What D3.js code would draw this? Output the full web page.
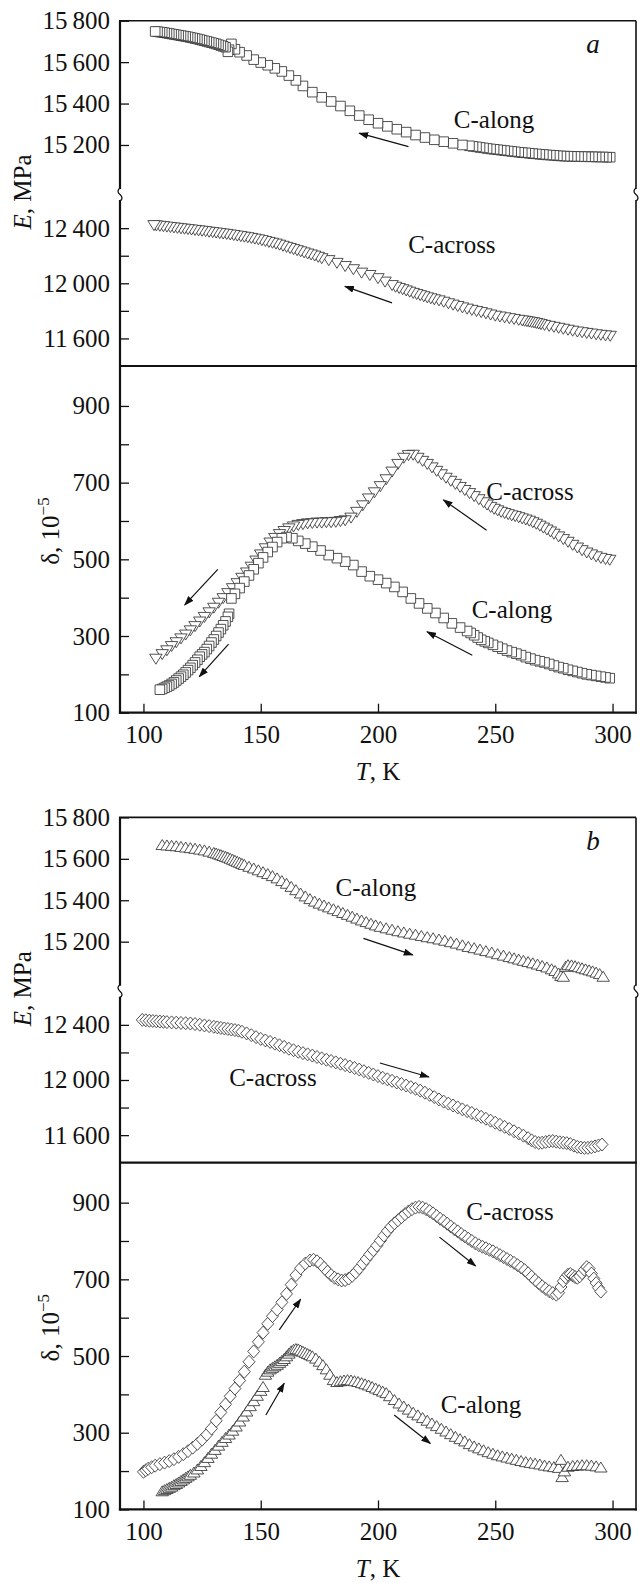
<!DOCTYPE html>
<html><head><meta charset="utf-8">
<script src="https://cdn.jsdelivr.net/npm/d3@7"></script>
<style>body{margin:0;background:#fff} text{font-family:"Liberation Serif","Times New Roman",serif;fill:#111}</style>
</head><body><svg id="c" width="644" height="1583"></svg>
<script>
// ---------- data (T in K, E in MPa, delta in 1e-5) ----------
const xTicks = [100,150,200,250,300];
const eUpTicks = [15200,15400,15600,15800];
const eLowTicks = [11600,12000,12400];
const eLowMinor = [11800,12200];
const dTicks = [100,300,500,700,900];
const dMinor = [200,400,600,800];

// panel a (cooling, measured from high T to low T)
const aAlongE = [[299,15141],[297.5,15141],[296,15142],[294.5,15142],[293,15142],[291.5,15143],[290,15143],[288.5,15143],[287,15144],[285.5,15144],[284,15145],[282.5,15145],[281,15146],[279.5,15146],[278,15147],[276.5,15148],[275,15150],[273.5,15151],[272,15152],[270.5,15154],[269,15155],[267.5,15157],[266,15158],[264.5,15160],[263,15162],[261.5,15163],[260,15165],[258.5,15167],[257,15169],[255.5,15171],[254,15173],[252.5,15175],[251,15177],[249.5,15179],[248,15181],[246.5,15183],[245,15186],[243.5,15188],[242,15191],[240.5,15193],[239,15196],[236,15200],[232,15208],[228,15216],[224,15225],[220,15236],[216,15248],[212,15262],[208,15276],[204,15290],[200,15305],[196,15322],[192,15342],[188,15365],[184,15388],[180,15410],[176,15430],[172,15455],[168,15485],[165,15512],[162,15535],[159,15555],[156,15570],[153,15585],[150,15598],[147,15612],[144,15632],[141,15648],[139,15662],[137.5,15688],[136.5,15660],[136,15650],[135,15672],[134,15676],[133,15680],[132,15684],[131,15688],[130,15691],[129,15694],[128,15697],[127,15700],[126,15703],[125,15706],[124,15709],[123,15712],[122,15714],[121,15717],[120,15719],[119,15722],[118,15724],[117,15726],[116,15728],[115,15730],[114,15732],[113,15734],[112,15736],[111,15738],[110,15740],[109,15742],[108,15744],[107,15745],[106,15747],[105,15748]];
const aAcrossE = [[299,11617],[297,11620],[295,11624],[293,11628],[291,11633],[289,11638],[287,11643],[285,11648],[283,11654],[281,11661],[279,11668],[277,11675],[275,11682],[273,11689],[271,11696],[269.5,11702],[268.5,11706],[267.5,11710],[266.5,11714],[265.5,11717],[264.5,11720],[263.5,11723],[262.5,11726],[261.5,11729],[260,11733],[258,11739],[256,11745],[254,11751],[252,11757],[250,11763],[248,11771],[246,11780],[244,11789],[242,11797],[240,11805],[238,11814],[236,11823],[234,11833],[232,11843],[230,11853],[228,11864],[226,11874],[224,11882],[222.5,11889],[221,11896],[219.5,11904],[218,11912],[216.5,11920],[215,11928],[213.5,11937],[212,11946],[210.5,11955],[209,11964],[207.5,11973],[206,11985],[203,12010],[200,12035],[196.5,12058],[193,12075],[189.5,12100],[186,12123],[182.5,12146],[179,12166],[176,12180],[174.5,12190],[173,12199],[171.5,12207],[170,12214],[168.5,12222],[167,12230],[165.5,12238],[164,12246],[162.5,12254],[161,12262],[159.5,12270],[158,12278],[156.5,12286],[155,12292],[153.5,12298],[152,12305],[150.5,12311],[149,12317],[147.5,12322],[146,12327],[144.5,12332],[143,12336],[141.5,12340],[140,12344],[138.5,12348],[137,12352],[135.5,12356],[134,12359],[132.5,12362],[131,12366],[129.5,12369],[128,12372],[126.5,12376],[125,12379],[123.5,12382],[122,12385],[120.5,12388],[119,12391],[117.5,12394],[116,12397],[114.5,12400],[113,12403],[111.5,12406],[110,12409],[108.5,12412],[107,12415],[105.5,12418],[104.5,12420]];
const aAcrossD = [[298.8,498],[297,500],[295,503],[293,507],[291,512],[289,517],[287,523],[285,530],[283,537],[281,545],[279,552],[277,559],[275,566],[273.5,572],[272,577],[270.5,582],[269,587],[267.5,592],[266,596],[264.5,600],[263,603],[261.5,606],[260,609],[258.5,612],[257,614],[255.5,617],[254,620],[252.5,623],[251,627],[249.5,631],[248,636],[246.5,642],[245,648],[243,656],[241,664],[239,672],[237,680],[235,688],[233,696],[231,704],[229,712],[227,721],[225,730],[223,739],[221,748],[219,756],[217,764],[215,772],[213,771],[211,764],[208.5,748],[206,728],[203.5,708],[201,690],[198.5,674],[196,658],[193.5,640],[191,623],[188.5,608],[186,601],[184,599],[182,597],[180,596],[178,596],[176,595],[174,595],[172,594],[170,593],[168,591],[166,589],[164,585],[162,580],[160,573],[158,565],[156,555],[154,543],[152,528],[150,512],[148,496],[146,480],[144,465],[142,451],[140,437],[138,424],[136,411],[134,398],[132,386],[130,373],[128,361],[126,349],[124,337],[122,325],[120,314],[118,303],[116,293],[114,283],[112,273],[110,262],[108,252],[105.3,240]];
const aAlongD = [[298.8,190],[297,192],[295,194],[293,196],[291,198],[289,200],[287,203],[285,206],[283,209],[281,212],[279,216],[277,219],[275,223],[273,227],[271,231],[269,234],[267,237],[265,241],[263,245],[261,250],[259,254],[257,258],[255,262],[253,267],[251,272],[249,277],[247,282],[245.5,286],[244,290],[242.5,296],[241,302],[239.5,308],[238,313],[235,322],[231.5,333],[228,347],[224.5,360],[221,372],[217.5,385],[214,398],[210.5,415],[207,428],[203.5,438],[200,447],[196.5,456],[193,468],[189.5,485],[186,494],[182.5,503],[179,511],[175.5,523],[172,533],[169,541],[166,548],[163.5,555],[161,558],[159,555],[157,545],[155,532],[153,519],[151,505],[149,490],[147,474],[145,458],[143,442],[141,425],[139,410],[137.5,398],[136.5,358],[136,350],[135,338],[134,328],[133,318],[132,309],[131,300],[130,291],[129,283],[128,274],[127,266],[126,258],[125,252],[124,246],[123,238],[122,231],[121,224],[120,217],[119,211],[118,205],[117,199],[116,194],[115,189],[114,184],[113,179],[112,175],[111,171],[110,168],[109,165],[108,162],[107,160]];

// panel b (heating, measured from low T to high T)
const bAlongE = [[108,15668],[110,15666],[112,15664],[114,15662],[116,15659],[118,15656],[120,15653],[122,15650],[124,15646],[126,15642],[128,15636],[130,15630],[131,15627],[132,15623],[133,15619],[134,15615],[135,15611],[136,15607],[137,15602],[138,15597],[139,15592],[140,15587],[141,15582],[142,15577],[143,15572],[145,15563],[147,15555],[149,15546],[151,15537],[153,15528],[155,15518],[157,15507],[159,15494],[161,15481],[163,15466],[165,15450],[167,15434],[169,15420],[171,15407],[173,15395],[175,15385],[177,15376],[179,15367],[181,15358],[183,15349],[185,15340],[187,15331],[189,15322],[191,15313],[193,15304],[195,15296],[197,15288],[199,15280],[201,15273],[203.5,15266],[206,15259],[208.5,15252],[211,15246],[213.5,15240],[216,15235],[218.5,15229],[221,15223],[223.5,15218],[226,15212],[228.5,15206],[231,15199],[233.5,15192],[236,15184],[238.5,15176],[241,15170],[243.5,15163],[246,15156],[248.5,15149],[251,15141],[253.5,15134],[256,15127],[258,15121],[260,15115],[262,15109],[264,15103],[266,15097],[268,15091],[270,15084],[272,15077],[274,15068],[275.5,15060],[277,15048],[278,15036],[279,15032],[280,15080],[281,15088],[282.5,15087],[284,15083],[285.5,15078],[287,15073],[288.5,15068],[290,15063],[291.5,15058],[293,15052],[294.5,15045],[296,15032]];
const bAcrossE = [[99.5,12436],[101,12433],[102.5,12430],[104,12428],[105.5,12426],[107,12424],[108.5,12422],[110,12420],[112,12418],[114,12416],[116,12414],[118,12412],[120,12410],[122,12406],[124,12401],[126,12396],[128,12391],[130,12386],[131.5,12382],[133,12378],[134.5,12374],[136,12370],[137.5,12366],[139,12362],[140.5,12358],[142,12350],[144,12338],[146,12325],[148,12311],[150,12298],[152,12287],[154,12276],[156,12264],[158,12252],[160,12240],[162,12227],[164,12216],[166,12205],[168,12195],[170,12186],[172,12177],[174,12167],[176,12157],[178,12147],[180,12138],[182,12128],[184,12118],[186,12108],[188,12098],[190,12087],[192,12076],[194,12064],[196,12052],[198,12040],[200,12028],[202,12016],[204,12005],[206,11994],[208,11982],[210,11971],[212,11960],[214,11948],[216,11936],[218,11923],[220,11908],[222,11892],[224,11876],[226,11859],[228,11843],[230,11829],[232,11815],[234,11801],[236,11787],[238,11774],[240,11761],[242,11747],[244,11733],[246,11719],[248,11705],[250,11690],[252,11675],[254,11660],[256,11645],[258,11628],[260,11612],[262,11596],[264,11578],[265.5,11562],[267,11550],[268.5,11543],[270,11545],[271.5,11550],[273,11555],[274.5,11557],[276,11553],[277.5,11548],[279,11545],[280.5,11542],[282,11535],[283.5,11524],[285,11515],[286.5,11510],[288,11507],[289.5,11508],[291,11512],[292.5,11518],[294,11525],[295.5,11532]];
const bAcrossD = [[100,198],[101,202],[102,206],[103.5,210],[105,214],[107,218],[109,222],[111,226],[113,231],[115,237],[117,244],[119,252],[121,261],[123,271],[125,282],[127,295],[129,311],[131,331],[133,353],[135,374],[137,395],[139,415],[141,436],[143,459],[145,485],[147,512],[149,537],[151,561],[153,584],[155,604],[157,621],[159,640],[161,662],[163,686],[165,711],[167,729],[169,741],[171,749],[172.5,751],[174,747],[175.5,740],[177,730],[178.5,720],[180,711],[181.5,704],[183,700],[184.5,697],[186,698],[187.5,702],[189,709],[190.5,718],[192,729],[193.5,741],[195,753],[196.5,765],[198,776],[199.5,788],[201,801],[202.5,814],[204,826],[205.5,837],[207,846],[208.5,854],[210,862],[211.5,870],[213,877],[214.5,883],[216,887],[217.5,889],[219,887],[220.5,883],[222,878],[223.5,872],[225,865],[226.5,858],[228,852],[229.5,845],[231,838],[232.5,831],[234,825],[235.5,818],[237,812],[238.5,806],[240,800],[241.5,794],[243,789],[244.5,785],[246,781],[247.5,777],[249,773],[250.5,768],[252,763],[253.5,758],[255,753],[256.5,748],[258,743],[259.5,737],[261,731],[262.5,724],[264,716],[265.5,707],[267,698],[268.5,690],[270,682],[271.5,675],[273,669],[274.5,664],[276,660],[277,665],[278,680],[279,695],[280,705],[281,712],[282,714],[283,710],[284,706],[285,704],[286,708],[287,716],[288,725],[289,732],[290,728],[291,715],[292,702],[293,690],[294,678],[295,668]];
const bAlongD = [[108,148],[109,151],[110,154],[111,157],[112,160],[113,164],[114,167],[115,171],[116,175],[117,179],[118,183],[119,187],[120,191],[121.5,197],[123,205],[124.5,214],[126,224],[127.5,235],[129,246],[130.5,256],[132,267],[133.5,277],[135,287],[136.5,296],[138,306],[139.5,317],[141,330],[142.5,343],[144,356],[145.5,370],[147,383],[148.5,397],[150,410],[151,420],[152,452],[153,460],[154,466],[155,470],[156,474],[157,478],[158,483],[159,488],[160,493],[161,500],[162,507],[163,513],[164,517],[165,519],[166,518],[167,515],[168,512],[169,509],[170,506],[171,503],[172,500],[173.5,494],[175,486],[176.5,477],[178,466],[179.5,452],[181,438],[182.5,433],[184,435],[185.5,437],[187,438],[188.5,437],[190,435],[191.5,433],[193,430],[194.5,427],[196,424],[197.5,420],[199,416],[200.5,412],[202,408],[203.5,404],[205,396],[207,386],[209,377],[211,369],[213,361],[215,353],[217,346],[219,339],[221,332],[223,325],[225,318],[227,311],[229,304],[231,297],[233,290],[235,284],[237,278],[239,271],[241,265],[243,260],[245,255],[247,250],[249,246],[251,242],[253,239],[255,236],[257,233],[259,230],[261,227],[263,224],[265,222],[267,220],[269,218],[271,215],[273,213],[275,211],[277,209],[278,230],[278.5,185],[279.5,200],[281,212],[283,214],[285,215],[287,216],[289,216],[291,215],[293,213],[295,210]];

// annotations: [T1, v1, T2, v2] arrow from (T1,v1) to head at (T2,v2)
const aArrowsEUp  = [[213,15192,192,15257]];
const aArrowsELow = [[206,11858,185.9,11978]];
const aArrowsD    = [[246.3,576,227.9,655],[240.2,250,220.9,311],[131.7,474,117.6,381],[136.3,279,123.8,194]];
const bArrowsEUp  = [[193.8,15216,214.8,15136]];
const bArrowsELow = [[200.8,12123,221.7,12022]];
const bArrowsD    = [[226.2,810,241.6,735],[157.9,568,167,648],[206.9,346,222.3,272],[152.2,346,160,429]];
// labels: [T, value, text]
const aLabelsEUp  = [[249.5,15282,"C-along"]];
const aLabelsELow = [[231.5,12222,"C-across"]];
const aLabelsD    = [[264.8,655,"C-across"],[257.1,347,"C-along"]];
const bLabelsEUp  = [[199.1,15420,"C-along"]];
const bLabelsELow = [[155.2,11959,"C-across"]];
const bLabelsD    = [[256.3,855,"C-across"],[243.9,351,"C-along"]];
const panelNames = ["a","b"];

// ---------- drawing ----------
const svg = d3.select("#c");
const L = 120, R = 636;
const x = d3.scaleLinear().domain([90,310]).range([L,R]);
const fmtE = d => { const s = String(d); return s.slice(0, s.length-3) + "\u2009" + s.slice(-3); };

svg.append("defs").append("marker").attr("id","ah").attr("markerUnits","userSpaceOnUse")
  .attr("markerWidth",10).attr("markerHeight",7).attr("refX",9).attr("refY",3.5).attr("orient","auto")
  .append("path").attr("d","M0,0 L10,3.5 L0,7 Z").attr("fill","#111");

const sq = d3.symbol(d3.symbolSquare, 92)();
const triDown = "M-6.2,-4.8L6.2,-4.8L0,5.2Z";
const triUp = "M-6.2,4.8L6.2,4.8L0,-5.2Z";
const diam = "M0,-6.5L6,0L0,6.5L-6,0Z";

function series(g, data, sy, shape) {
  g.append("g").selectAll("path").data(data).enter().append("path")
    .attr("d", shape)
    .attr("transform", d => `translate(${x(d[0])},${sy(d[1])})`)
    .attr("fill","#fff").attr("stroke","#333").attr("stroke-width",0.85);
}
function arrows(g, list, sy) {
  list.forEach(a => g.append("line")
    .attr("x1",x(a[0])).attr("y1",sy(a[1])).attr("x2",x(a[2])).attr("y2",sy(a[3]))
    .attr("stroke","#111").attr("stroke-width",1.2).attr("marker-end","url(#ah)"));
}
function labels(g, list, sy) {
  list.forEach(l => g.append("text").attr("x",x(l[0])).attr("y",sy(l[1]))
    .attr("text-anchor","middle").attr("font-size",25).text(l[2]));
}
function breakMark(g, bx, y0) {
  g.append("rect").attr("x",bx-5).attr("y",y0).attr("width",10).attr("height",11).attr("fill","#fff");
  g.append("path").attr("d",`M${bx},${y0-1} q-4,3 0,6.5 q4,3.5 0,6.5`)
    .attr("fill","none").attr("stroke","#111").attr("stroke-width",1.3);
}

function panel(off, P) {
  const g = svg.append("g");
  const top = 20.7+off, upBot = 186.4+off, lowTop = 193.7+off, sep = 366+off, bot = 712.7+off;
  const eUp = d3.scaleLinear().domain([15000,15800]).range([upBot, top]);
  const eLow = d3.scaleLinear().domain([11400,12650]).range([sep, lowTop]);
  const dS = d3.scaleLinear().domain([100,1000]).range([bot, 367.6+off]);

  // ticks and tick labels
  const ax = (scale, vals, fmt) => {
    const a = g.append("g").attr("transform",`translate(${L},0)`)
      .call(d3.axisLeft(scale).tickValues(vals).tickSize(-9).tickSizeOuter(0).tickPadding(10).tickFormat(fmt));
    a.select(".domain").remove();
    a.selectAll("line").attr("stroke","#111").attr("stroke-width",1.3);
    a.selectAll("text").attr("font-size",25).attr("font-family","Liberation Serif").attr("fill","#111");
  };
  ax(eUp, eUpTicks, fmtE);
  ax(eLow, eLowTicks, fmtE);
  ax(eLow, eLowMinor, () => "");
  ax(dS, dTicks, d3.format("d"));
  ax(dS, dMinor, () => "");
  const xa = g.append("g").attr("transform",`translate(0,${bot})`)
    .call(d3.axisBottom(x).tickValues(xTicks).tickSize(-9).tickSizeOuter(0).tickPadding(13).tickFormat(d3.format("d")));
  xa.select(".domain").remove();
  xa.selectAll("line").attr("stroke","#111").attr("stroke-width",1.3);
  xa.selectAll("text").attr("font-size",25).attr("font-family","Liberation Serif").attr("fill","#111");

  // data
  const gd = g.append("g");
  if (P.name === "a") {
    series(gd, P.alongE, eUp, sq);
    series(gd, P.acrossE, eLow, triDown);
    series(gd, P.acrossD, dS, triDown);
    series(gd, P.alongD, dS, sq);
  } else {
    series(gd, P.alongE, eUp, triUp);
    series(gd, P.acrossE, eLow, diam);
    series(gd, P.acrossD, dS, diam);
    series(gd, P.alongD, dS, triUp);
  }

  // frame
  const ln = (x1,y1,x2,y2,w) => g.append("line").attr("x1",x1).attr("y1",y1).attr("x2",x2).attr("y2",y2)
    .attr("stroke","#111").attr("stroke-width",w);
  ln(L-1, top, R, top, 1.6);
  ln(L, top, L, bot+1, 2.2);
  ln(R, top, R, bot+1, 1.6);
  ln(L, sep, R+0.8, sep, 2.2);
  ln(L-1.1, bot, R+0.8, bot, 2.2);
  breakMark(g, L, 189+off);
  breakMark(g, R, 189+off);

  arrows(g, P.arrowsEUp, eUp);
  arrows(g, P.arrowsELow, eLow);
  arrows(g, P.arrowsD, dS);
  labels(g, P.labelsEUp, eUp);
  labels(g, P.labelsELow, eLow);
  labels(g, P.labelsD, dS);

  // panel letter
  g.append("text").attr("x",593).attr("y",53+off).attr("text-anchor","middle")
    .attr("font-size",27).attr("font-style","italic").text(P.name);

  // axis titles
  const te = g.append("text").attr("transform",`translate(31,${192+off}) rotate(-90)`)
    .attr("text-anchor","middle").attr("font-size",25);
  te.append("tspan").attr("font-style","italic").text("E");
  te.append("tspan").text(", MPa");
  const td = g.append("text").attr("transform",`translate(59,${531+off}) rotate(-90)`)
    .attr("text-anchor","middle").attr("font-size",25);
  td.append("tspan").text("\u03b4, 10");
  td.append("tspan").attr("font-size",17).attr("dy",-10).text("\u22125");
  const tt = g.append("text").attr("x",378).attr("y",780+off).attr("text-anchor","middle").attr("font-size",25);
  tt.append("tspan").attr("font-style","italic").text("T");
  tt.append("tspan").text(", K");
}

panel(0, {name: panelNames[0], alongE: aAlongE, acrossE: aAcrossE, acrossD: aAcrossD, alongD: aAlongD,
  arrowsEUp: aArrowsEUp, arrowsELow: aArrowsELow, arrowsD: aArrowsD,
  labelsEUp: aLabelsEUp, labelsELow: aLabelsELow, labelsD: aLabelsD});
panel(796.7, {name: panelNames[1], alongE: bAlongE, acrossE: bAcrossE, acrossD: bAcrossD, alongD: bAlongD,
  arrowsEUp: bArrowsEUp, arrowsELow: bArrowsELow, arrowsD: bArrowsD,
  labelsEUp: bLabelsEUp, labelsELow: bLabelsELow, labelsD: bLabelsD});
</script>
</body></html>
